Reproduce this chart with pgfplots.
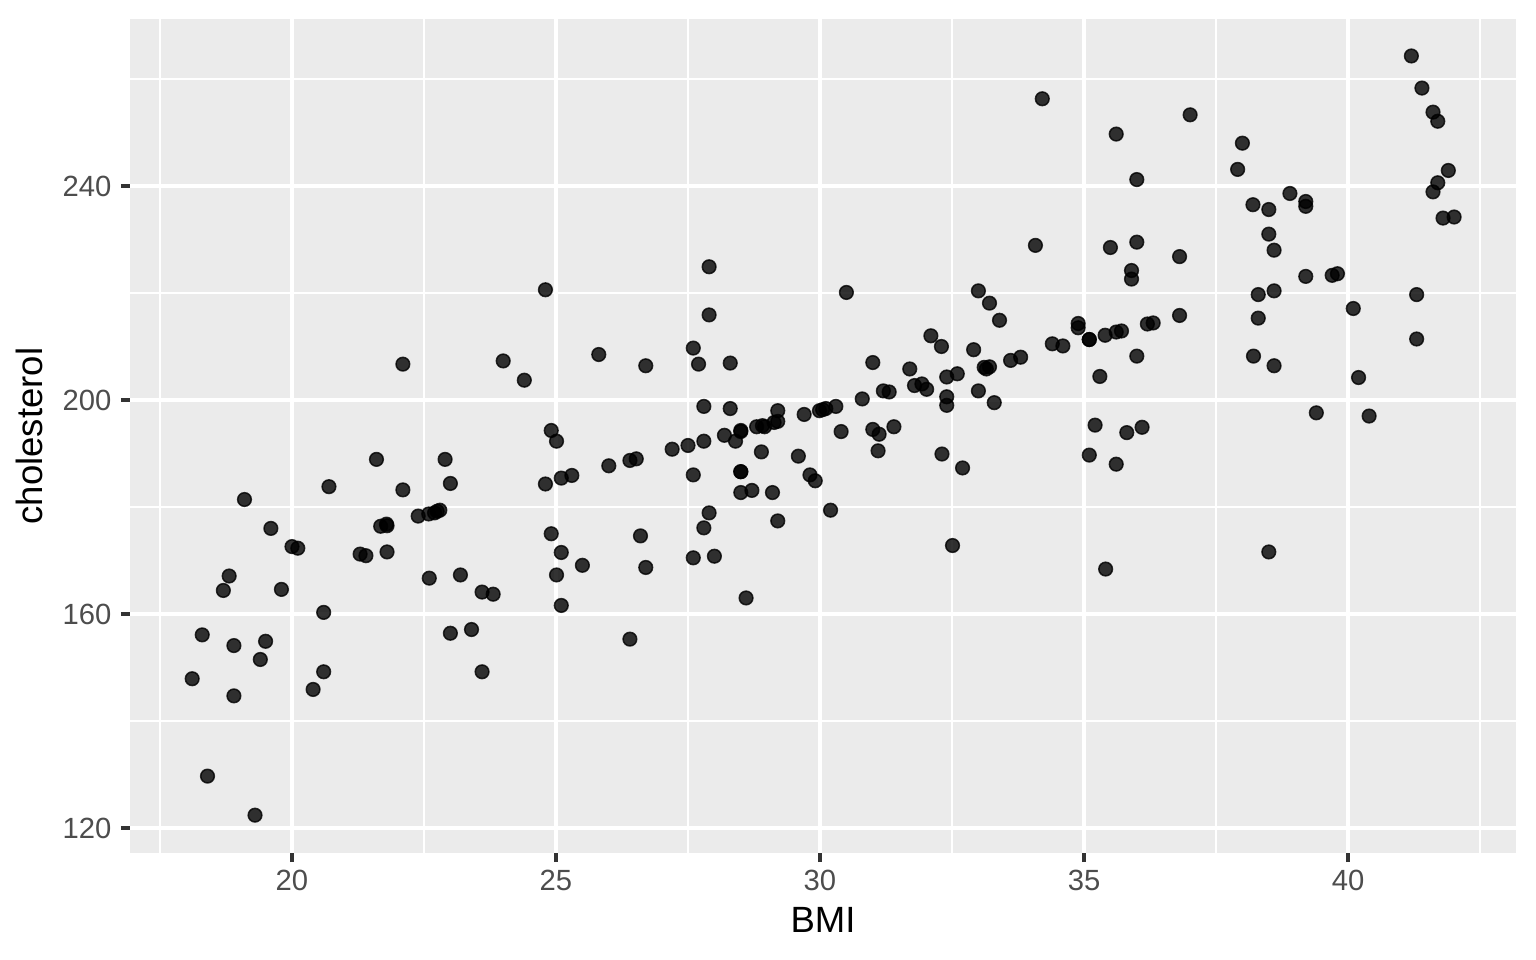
\documentclass[border=0pt]{standalone}
\usepackage{pgfplots}
\pgfplotsset{compat=1.18}
\usepackage{fontspec}
\setmainfont{Liberation Sans}
\definecolor{panelgray}{HTML}{EBEBEB}
\definecolor{tickgray}{HTML}{333333}
\definecolor{labelgray}{HTML}{4D4D4D}

\pgfplotstableread{
bmi chol
18.11 147.9
18.30 156.1
18.40 129.7
18.70 164.4
18.81 167.1
18.90 154.1
18.90 144.7
19.30 122.4
19.50 154.9
19.40 151.5
19.10 181.4
19.60 176.0
19.80 164.6
20.00 172.6
20.11 172.3
20.60 160.3
20.40 145.9
20.60 149.2
20.70 183.8
21.60 188.9
22.10 183.2
21.29 171.2
21.40 170.9
21.80 171.6
21.68 176.4
21.79 176.8
21.80 176.5
22.39 178.3
22.59 178.7
22.70 178.9
22.75 179.2
22.80 179.4
22.90 188.9
23.00 184.4
22.60 166.7
23.19 167.3
23.00 156.4
23.40 157.1
23.60 164.1
23.81 163.7
23.60 149.2
24.91 194.3
25.01 192.3
24.80 184.3
25.10 185.4
25.30 185.9
24.91 175.0
25.10 171.5
25.50 169.1
25.01 167.3
25.10 161.6
24.80 220.6
22.10 206.7
24.00 207.3
24.40 203.7
25.81 208.5
26.70 206.4
27.90 224.9
27.90 215.9
27.60 209.7
27.70 206.7
28.30 206.9
30.50 220.1
34.08 228.9
33.00 220.4
33.21 218.1
33.40 214.9
32.10 212.0
32.30 210.0
32.91 209.4
33.11 206.1
33.21 206.2
33.15 205.8
33.61 207.4
33.80 208.0
31.00 207.0
31.70 205.8
32.60 204.9
32.40 204.3
31.79 202.7
31.93 203.0
32.02 202.0
31.20 201.7
31.31 201.5
32.40 200.6
32.40 199.0
33.00 201.7
33.30 199.5
30.80 200.2
30.30 198.8
29.99 198.0
30.11 198.4
30.05 198.2
29.70 197.3
29.20 198.0
29.20 196.0
29.13 195.8
28.91 195.2
28.95 195.0
28.80 195.0
28.50 194.1
28.50 194.3
28.19 193.4
28.40 192.3
27.80 198.8
28.30 198.4
27.80 192.3
27.50 191.5
27.20 190.8
26.40 188.7
26.52 189.0
26.00 187.7
27.60 186.0
28.50 186.6
28.50 186.6
28.89 190.3
29.59 189.5
29.81 186.0
29.91 184.9
28.50 182.7
28.71 183.1
29.10 182.7
30.40 194.1
31.00 194.5
31.12 193.6
31.40 195.0
31.10 190.5
32.31 189.9
32.70 187.3
27.90 178.9
27.80 176.1
29.20 177.4
30.20 179.4
26.60 174.6
26.70 168.7
27.60 170.5
28.00 170.8
28.60 163.0
26.40 155.3
32.51 172.8
41.20 264.3
41.40 258.3
41.61 253.8
41.70 252.1
41.90 242.9
41.70 240.6
41.61 238.9
41.80 234.0
42.01 234.2
41.30 219.7
41.30 211.4
40.10 217.1
40.20 204.2
40.40 197.0
39.40 197.6
39.20 223.1
39.70 223.3
39.80 223.6
38.90 238.6
39.20 237.1
39.20 236.2
38.00 248.0
37.91 243.1
38.20 236.5
38.50 235.6
38.50 231.0
38.60 228.0
38.30 219.7
38.60 220.4
38.30 215.3
38.21 208.2
38.60 206.4
37.01 253.3
36.81 226.8
36.81 215.8
36.00 241.2
35.61 249.7
34.21 256.3
35.50 228.5
36.00 229.5
35.90 224.2
35.90 222.6
34.89 214.3
34.89 213.5
34.40 210.5
34.60 210.1
35.10 211.3
35.10 211.3
35.40 212.1
35.61 212.7
35.71 212.9
36.20 214.2
36.31 214.4
36.00 208.2
35.30 204.4
35.21 195.3
35.81 193.9
36.10 194.9
35.10 189.7
35.61 188.0
35.41 168.4
38.50 171.6
}\bmidata

\begin{document}
\begin{tikzpicture}
\begin{axis}[
    at={(0,0)}, anchor=south west,
    scale only axis,
    width=415.8bp, height=250.2bp,
    xmin=16.932, xmax=43.182,
    ymin=115.33, ymax=271.21,
    xtick={20,25,30,35,40},
    ytick={120,160,200,240},
    minor xtick={17.5,22.5,27.5,32.5,37.5,42.5},
    minor ytick={140,180,220,260},
    grid=both,
    major grid style={white, line width=1.07bp},
    minor grid style={white, line width=0.53bp},
    axis background/.style={fill=panelgray},
    axis line style={draw=none},
    tick pos=left,
    tick align=outside,
    major tick length=2.75bp,
    minor tick length=0pt,
    major tick style={color=tickgray, line width=1.07bp},
    /pgf/number format/assume math mode=true,
    ticklabel style={font=\fontsize{8.8}{10}\selectfont, text=labelgray},
    xticklabel style={anchor=north, inner sep=0pt, yshift=-2.2bp},
    yticklabel style={anchor=east, inner sep=0pt, xshift=-2.6bp},
    xlabel={BMI},
    ylabel={cholesterol},
    label style={font=\fontsize{11}{13}\selectfont, text=black},
    xlabel style={at={(axis description cs:0.5,-0.0955)}, anchor=base},
    ylabel style={at={(axis description cs:-0.0628,0.5)}, anchor=base},
]
\addplot[only marks, mark=*, mark size=2.05bp,
    mark options={fill=black, draw=black, line width=0.45bp,
                  fill opacity=0.8, draw opacity=0.8}]
    table[x=bmi, y=chol] {\bmidata};
\end{axis}
\pgfresetboundingbox
\path[use as bounding box] (-39bp,-32.1bp) rectangle (421.8bp,255.9bp);
\end{tikzpicture}
\end{document}
